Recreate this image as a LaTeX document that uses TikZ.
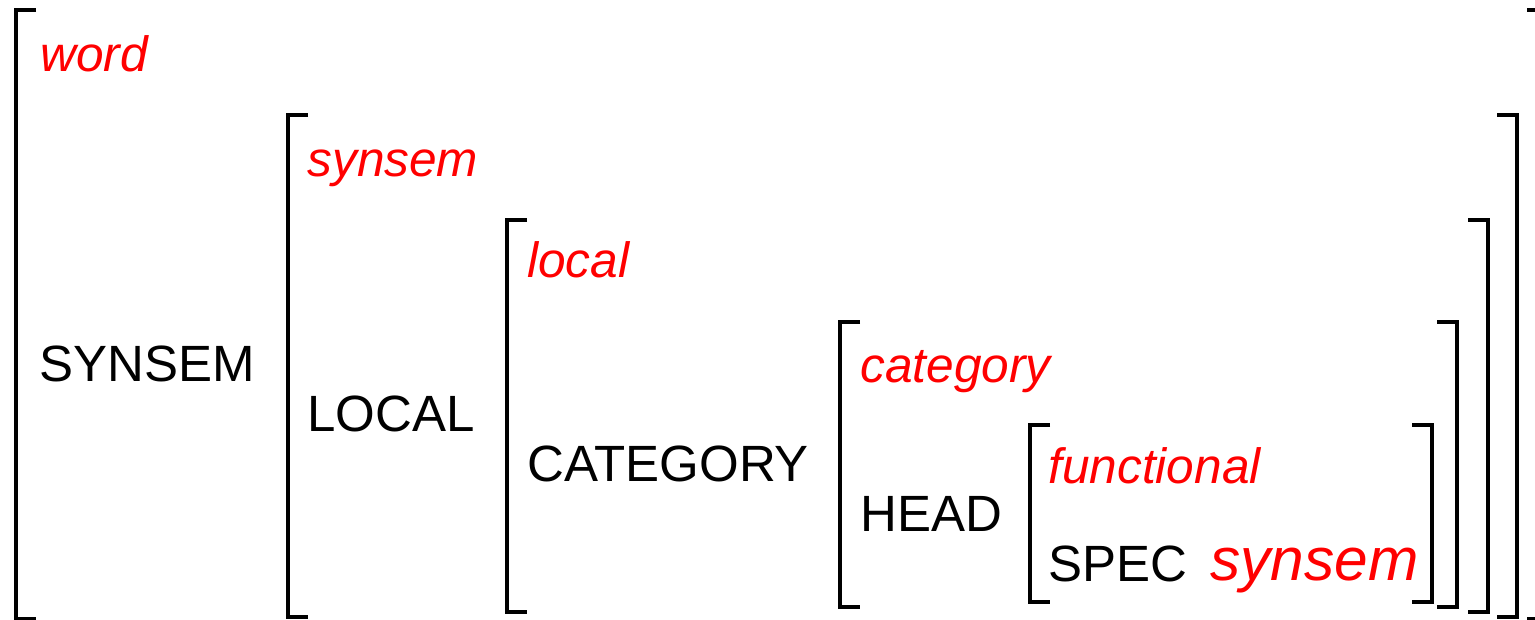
\documentclass[tikz,border=0pt]{standalone}
\usepackage{fontspec}
\setmainfont{Liberation Sans}
\usepackage{tikz}
\usetikzlibrary{positioning}

\definecolor{typered}{RGB}{255,0,0}

\begin{document}
\begin{tikzpicture}[x=0.5pt,y=-0.5pt,
    brk/.style={line width=2pt},
    feat/.style={anchor=base west,inner sep=0pt,font=\fontsize{25.5}{30}\selectfont},
    typ/.style={feat,text=typered,font=\fontsize{24.8}{30}\selectfont\itshape}]
  \useasboundingbox (0,0) rectangle (1535,620);
  % left brackets
  \draw[brk] (36,10) -- (16,10) -- (16,619) -- (36,619);
  \draw[brk] (308,115) -- (288,115) -- (288,617) -- (308,617);
  \draw[brk] (527,220) -- (507,220) -- (507,612) -- (527,612);
  \draw[brk] (860,322) -- (840,322) -- (840,607) -- (860,607);
  \draw[brk] (1050,425) -- (1030,425) -- (1030,602) -- (1050,602);
  % right brackets
  \draw[brk] (1412,425) -- (1432,425) -- (1432,602) -- (1412,602);
  \draw[brk] (1437,322) -- (1457,322) -- (1457,607) -- (1437,607);
  \draw[brk] (1468,220) -- (1488,220) -- (1488,612) -- (1468,612);
  \draw[brk] (1497,115) -- (1517,115) -- (1517,617) -- (1497,617);
  \draw[brk] (1527,10) -- (1547,10) -- (1547,619) -- (1527,619);
  % types
  \node[typ] (tword) at (40,72) {word};
  \node[typ] (tsynsem) at (307,177) {synsem};
  \node[typ] (tlocal) at (527,278) {local};
  \node[typ] (tcat) at (860,382) {category};
  \node[typ] (tfunc) at (1048,483) {functional};
  % features
  \node[feat] (fsynsem) at (39,381) {SYNSEM};
  \node[feat] (flocal) at (307,431) {LOCAL};
  \node[feat] (fcat) at (527,481) {CATEGORY};
  \node[feat] (fhead) at (860,531) {HEAD};
  \node[feat] (fspec) at (1048,581) {SPEC};
  \node[typ,font=\fontsize{30.2}{36}\selectfont\itshape] (tspec) at (1210,580) {synsem};
\end{tikzpicture}
\end{document}
